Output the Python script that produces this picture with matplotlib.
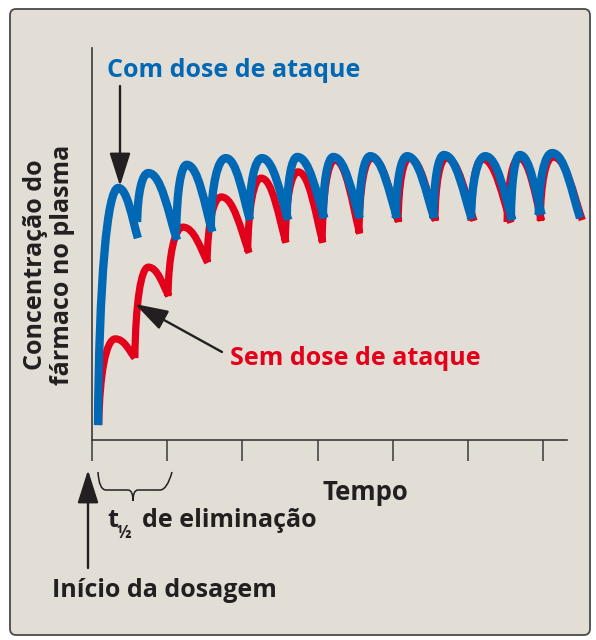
import matplotlib
matplotlib.use('Agg')
import matplotlib.pyplot as plt
from matplotlib.path import Path
from matplotlib.patches import PathPatch, FancyBboxPatch, FancyArrowPatch

# time in elimination half-lives, plasma concentration in arbitrary units (0-100)
# each dose drawn as one arc: start -> peak -> end
blue_start_t = [0.08, 0.60, 1.12, 1.58, 2.09, 2.59, 3.07, 3.55, 4.04, 4.54, 5.04, 5.57, 5.94]
blue_start_c = [3.8, 55.6, 53.1, 54.6, 56.6, 56.6, 56.6, 56.6, 56.6, 56.6, 56.4, 56.1, 57.4]
blue_peak_t = [0.35, 0.75, 1.26, 1.78, 2.26, 2.73, 3.21, 3.70, 4.19, 4.68, 5.23, 5.69, 6.12]
blue_peak_c = [64.3, 68.1, 70.2, 71.9, 71.9, 72.2, 72.2, 72.4, 72.4, 72.7, 72.4, 72.7, 73.2]
blue_end_t = [0.61, 1.13, 1.60, 2.10, 2.61, 3.09, 3.56, 4.06, 4.55, 5.05, 5.59, 5.98, 6.49]
blue_end_c = [51.5, 51.0, 53.1, 56.1, 56.1, 56.6, 56.6, 56.6, 56.6, 56.4, 56.1, 57.4, 56.6]

red_start_t = [0.09, 0.57, 1.01, 1.53, 2.07, 2.57, 3.06, 3.55, 4.07, 4.56, 5.04, 5.52, 5.96]
red_start_c = [3.8, 20.9, 36.7, 45.4, 48.0, 50.5, 50.5, 52.8, 55.6, 55.9, 55.9, 55.6, 55.9]
red_peak_t = [0.31, 0.75, 1.21, 1.72, 2.25, 2.74, 3.23, 3.72, 4.22, 4.71, 5.19, 5.68, 6.13]
red_peak_c = [25.8, 44.1, 54.3, 62.0, 66.8, 68.4, 71.4, 71.9, 71.9, 71.9, 71.7, 71.9, 72.2]
red_end_t = [0.57, 1.02, 1.54, 2.09, 2.58, 3.07, 3.56, 4.08, 4.57, 5.08, 5.57, 5.98, 6.52]
red_end_c = [20.9, 36.7, 45.2, 47.7, 50.3, 50.3, 52.6, 55.6, 55.9, 55.9, 55.4, 55.9, 56.1]

half_life_ticks = [0, 1, 2, 3, 4, 5, 6]

blue = '#0068b4'
red = '#e3001b'
ink = '#231f20'
bg = '#e3ded5'


def dose_path(start_t, start_c, peak_t, peak_c, end_t, end_c):
    """One bezier arc per dose: steep rise into a rounded peak, then the decay."""
    verts = []
    codes = []
    for t0, c0, tp, cp, te, ce in zip(start_t, start_c, peak_t, peak_c, end_t, end_c):
        rise_t = tp - t0
        rise_c = cp - c0
        fall_t = te - tp
        fall_c = cp - ce
        verts += [(t0, c0),
                  (t0 + 0.05 * rise_t, c0 + 0.6 * rise_c), (tp - 0.55 * rise_t, cp), (tp, cp),
                  (tp + 0.45 * fall_t, cp), (te - 0.3 * fall_t, ce + 0.4 * fall_c), (te, ce)]
        codes += [Path.MOVETO] + [Path.CURVE4] * 6
    return Path(verts, codes)


plt.rcParams['font.family'] = ['Open Sans', 'DejaVu Sans']

fig = plt.figure(figsize=(5.96, 6.40), dpi=100)
fig.patch.set_facecolor('white')

# beige panel behind everything
frame = FancyBboxPatch((10 / 596, 5 / 640), 580 / 596, 626 / 640,
                       boxstyle='round,pad=0,rounding_size=0.01',
                       transform=fig.transFigure, facecolor=bg, edgecolor='#4a4a4a',
                       linewidth=1.3, zorder=-5)
fig.patches.append(frame)

ax = fig.add_axes([92 / 596, 200 / 640, 475 / 596, 392 / 640], zorder=1)
ax.patch.set_visible(False)
ax.set_xlim(0, 475 / 75.2)
ax.set_ylim(0, 100)

for side in ['top', 'right']:
    ax.spines[side].set_visible(False)
for side in ['left', 'bottom']:
    ax.spines[side].set_color('#3a3a3a')
    ax.spines[side].set_linewidth(1.2)

ax.set_xticks(half_life_ticks)
ax.set_xticklabels([])
ax.set_yticks([])
ax.tick_params(axis='x', direction='out', length=15, width=1.1, color='#3a3a3a')

# red first so the blue curve sits on top
ax.add_patch(PathPatch(dose_path(red_start_t, red_start_c, red_peak_t, red_peak_c, red_end_t, red_end_c),
                       facecolor='none', edgecolor=red, linewidth=5.2, capstyle='butt', clip_on=False))
ax.add_patch(PathPatch(dose_path(blue_start_t, blue_start_c, blue_peak_t, blue_peak_c, blue_end_t, blue_end_c),
                       facecolor='none', edgecolor=blue, linewidth=6.0, capstyle='butt', clip_on=False))

# labels
fs = 18
fig.text(107 / 596, 1 - 77 / 640, 'Com dose de ataque', color=blue, fontsize=fs,
         fontweight='bold', ha='left', va='baseline')
fig.text(230 / 596, 1 - 365 / 640, 'Sem dose de ataque', color=red, fontsize=fs,
         fontweight='bold', ha='left', va='baseline')
fig.text(49 / 596, 1 - 265 / 640, 'Concentração do\nfármaco no plasma', color=ink, fontsize=fs,
         fontweight='bold', rotation=90, ha='center', va='center', multialignment='center',
         linespacing=1.15)
fig.text(322 / 596, 1 - 500 / 640, 'Tempo', color=ink, fontsize=18.5, fontweight='bold',
         ha='left', va='baseline')
fig.text(107 / 596, 1 - 527 / 640, 't', color=ink, fontsize=fs, fontweight='bold',
         ha='left', va='baseline')
fig.text(117 / 596, 1 - 538 / 640, '½', color=ink, fontsize=12, fontweight='bold',
         ha='left', va='baseline')
fig.text(142 / 596, 1 - 527 / 640, 'de eliminação', color=ink, fontsize=fs, fontweight='bold',
         ha='left', va='baseline')
fig.text(52 / 596, 1 - 597 / 640, 'Início da dosagem', color=ink, fontsize=fs, fontweight='bold',
         ha='left', va='baseline')

# arrows
arrow = dict(arrowstyle='-|>,head_length=1.2,head_width=0.38', color=ink, lw=1.7,
             shrinkA=0, shrinkB=0, mutation_scale=17, zorder=5, transform=fig.transFigure)
fig.add_artist(FancyArrowPatch((120 / 596, 1 - 86 / 640), (120 / 596, 1 - 186 / 640), **arrow))
fig.add_artist(FancyArrowPatch((222 / 596, 1 - 352 / 640), (135 / 596, 1 - 304 / 640), **arrow))
fig.add_artist(FancyArrowPatch((88 / 596, 1 - 568 / 640), (88 / 596, 1 - 470 / 640), **arrow))

# brace spanning one half-life
brace_px = [(98, 472), (99, 490), (106, 490), (128, 490), (133, 490), (133, 501),
            (133, 490), (138, 490), (160, 490), (167, 490), (172, 472)]
brace_codes = [Path.MOVETO, Path.CURVE3, Path.CURVE3, Path.LINETO, Path.CURVE3, Path.CURVE3,
               Path.CURVE3, Path.CURVE3, Path.LINETO, Path.CURVE3, Path.CURVE3]
brace = Path([(x / 596, 1 - y / 640) for x, y in brace_px], brace_codes)
fig.patches.append(PathPatch(brace, transform=fig.transFigure, facecolor='none',
                             edgecolor=ink, linewidth=1.1))

plt.savefig('out.png', dpi=100, facecolor=fig.get_facecolor())
